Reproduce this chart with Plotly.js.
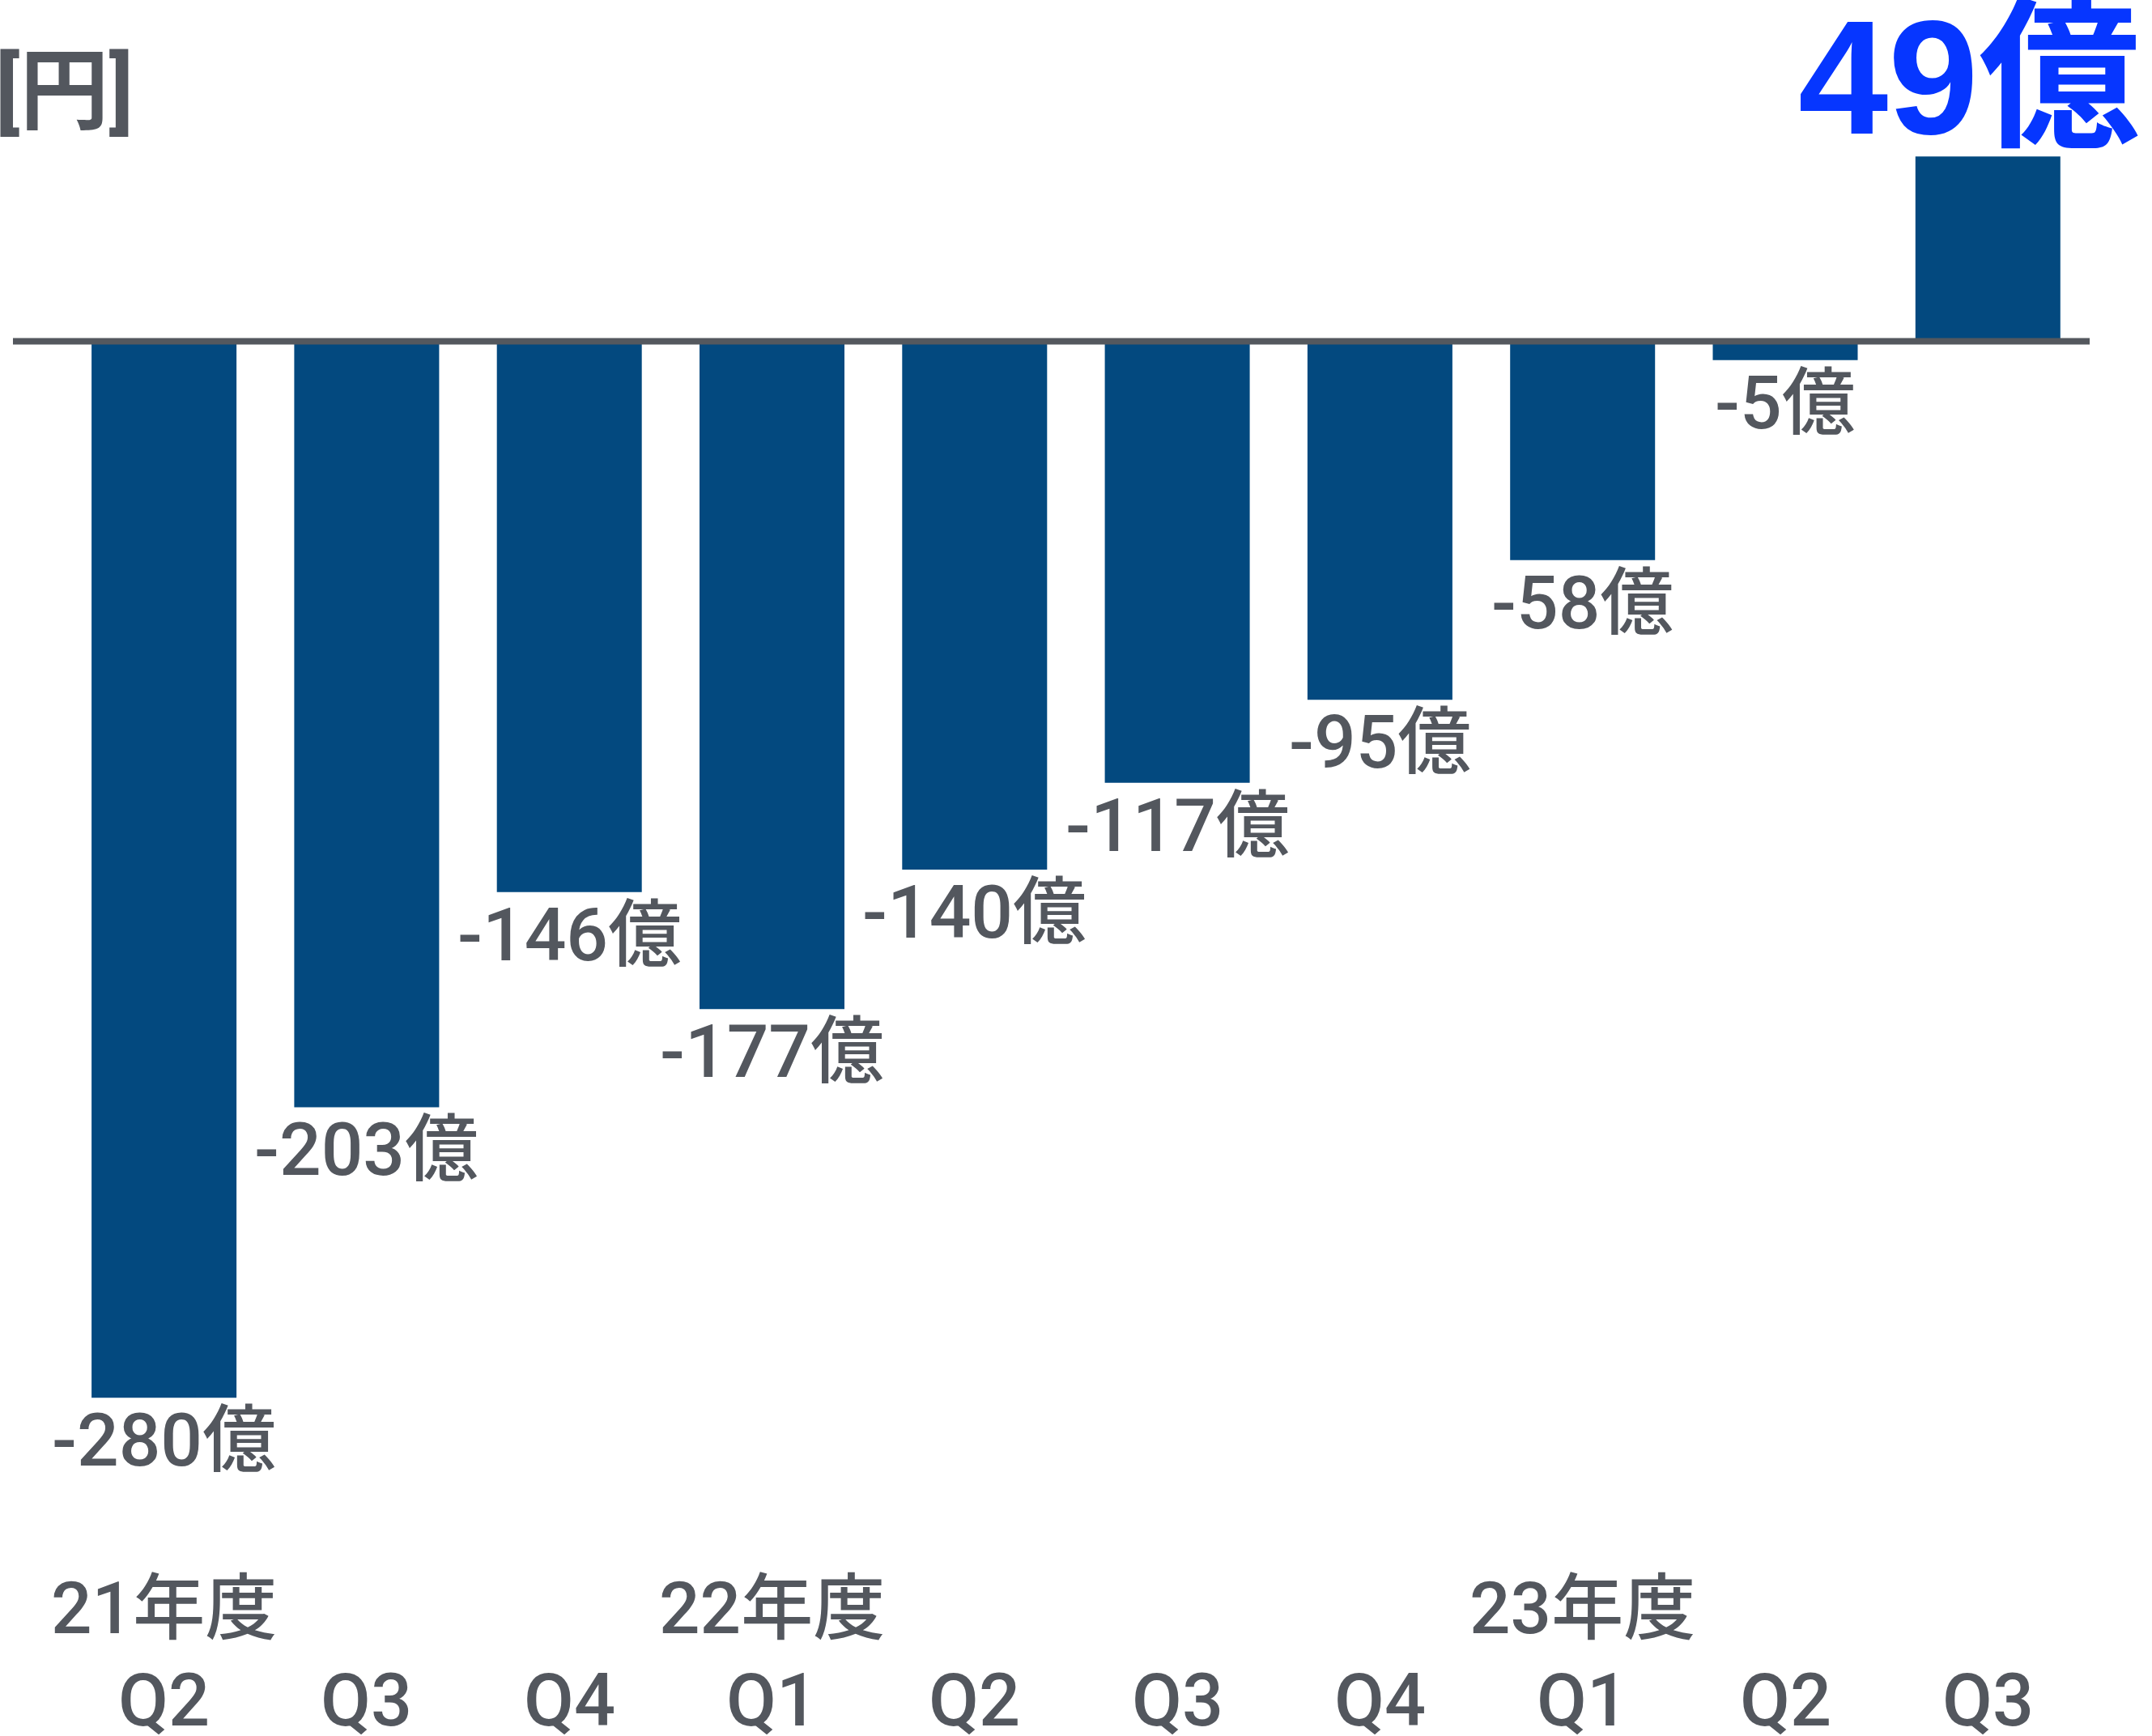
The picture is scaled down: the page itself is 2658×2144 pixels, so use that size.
<!DOCTYPE html>
<html>
<head>
<meta charset="utf-8">
<script src="https://cdn.plot.ly/plotly-3.0.1.min.js"></script>
<style>
html,body{margin:0;padding:0;background:#fff;}
#chart{width:2658px;height:2144px;}
</style>
</head>
<body>
<div id="chart"></div>
<script>
// ---- data ----
const quarters = ['Q2','Q3','Q4','Q1','Q2','Q3','Q4','Q1','Q2','Q3'];
const fiscalYears = ['21年度','','','22年度','','','','23年度','',''];
const values = [-280,-203,-146,-177,-140,-117,-95,-58,-5,49];
const unitLabel = '[円]';
const unitSuffix = '億';

// unique category keys
let cur = '';
const categories = quarters.map((q,i)=>{ if(fiscalYears[i]) cur = fiscalYears[i]; return cur + ' ' + q; });

const W = 2658, H = 2144;
const GRAY = '#53575e';
const BAR = '#03497f';
const BLUE = '#0636ff';
const FONT = 'Roboto, Liberation Sans, Noto Sans CJK JP, sans-serif';
const FONT_BIG = 'Liberation Sans, Arial, Noto Sans CJK JP, sans-serif';

// scales
const pxPerCat = 250.3, firstCenter = 202.6;
const x0 = -firstCenter/pxPerCat;
const xr = [x0, x0 + W/pxPerCat];
const pxPerUnit = 4.66, basePx = 421.5;
const yr = [-(H-basePx)/pxPerUnit, basePx/pxPerUnit];

const annotations = [];
values.forEach((v,i)=>{
  if (v < 0) {
    annotations.push({
      x: categories[i], y: v, xref:'x', yref:'y',
      text: v + unitSuffix, showarrow:false,
      xanchor:'center', yanchor:'top', yshift: 2,
      font:{family:FONT, size:91, color:GRAY, weight:500}
    });
  } else {
    annotations.push({
      x: categories[i], y: v, xref:'x', yref:'y',
      text: v + unitSuffix, showarrow:false,
      xanchor:'center', yanchor:'bottom', xshift:-23, yshift:-16,
      font:{family:FONT_BIG, size:200, color:BLUE, weight:'bold'}
    });
  }
  annotations.push({
    x: categories[i], y: 1 - 2100/H, xref:'x', yref:'paper',
    text: quarters[i], showarrow:false, xanchor:'center', yanchor:'middle',
    font:{family:FONT, size:90, color:GRAY, weight:500}
  });
  if (fiscalYears[i]) {
    annotations.push({
      x: categories[i], y: 1 - 1986/H, xref:'x', yref:'paper',
      text: fiscalYears[i], showarrow:false, xanchor:'center', yanchor:'middle',
      font:{family:FONT, size:89, color:GRAY, weight:500}
    });
  }
});
annotations.push({
  x: 0, y: 1 - 113/H, xref:'paper', yref:'paper', xanchor:'left', yanchor:'middle',
  xshift:-8, text: unitLabel, showarrow:false,
  font:{family:FONT, size:110, color:GRAY, weight:'bold'}
});

const trace = {
  type:'bar', x: categories, y: values,
  marker:{color:BAR, line:{width:0}},
  width: 179/pxPerCat,
  hoverinfo:'skip'
};

const layout = {
  width: W, height: H,
  margin:{l:0,r:0,t:0,b:0,pad:0},
  paper_bgcolor:'#ffffff', plot_bgcolor:'#ffffff',
  showlegend:false,
  xaxis:{type:'category', range:xr, showgrid:false, zeroline:false, showline:false, showticklabels:false, ticks:'', fixedrange:true},
  yaxis:{range:yr, showgrid:false, zeroline:false, showline:false, showticklabels:false, ticks:'', fixedrange:true},
  annotations: annotations,
  shapes:[{
    type:'line', xref:'paper', yref:'y', x0: 16/W, x1: 2581/W, y0:0, y1:0,
    line:{color:'#54585e', width:8}, layer:'above'
  }]
};

Plotly.newPlot('chart', [trace], layout, {displayModeBar:false, staticPlot:true});
</script>
</body>
</html>
